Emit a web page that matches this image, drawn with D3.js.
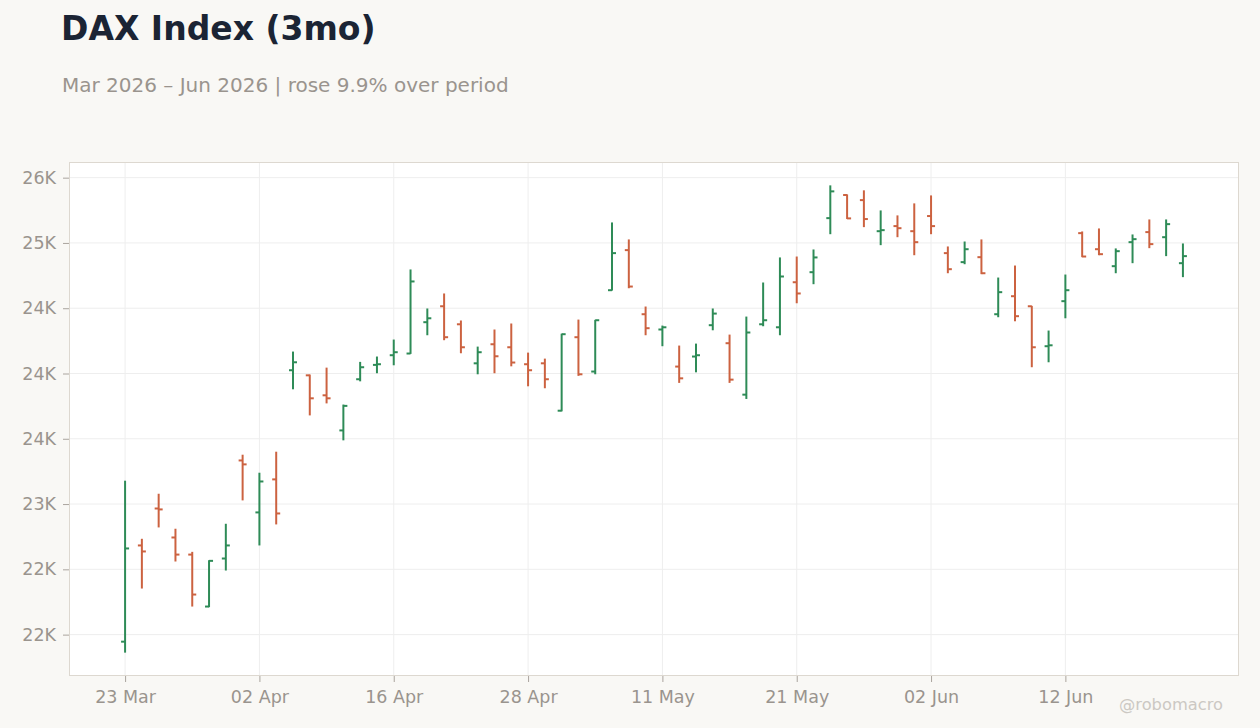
<!DOCTYPE html>
<html>
<head>
<meta charset="utf-8">
<script src="https://cdn.jsdelivr.net/npm/d3@7"></script>
<style>
  html, body { margin: 0; padding: 0; background: #f9f8f5; }
  svg { display: block; font-family: "DejaVu Sans", sans-serif; }
</style>
</head>
<body>
<svg id="chart" width="1260" height="728"></svg>
<script>
// ---- data ----
const dates = ["2026-03-23","2026-03-24","2026-03-25","2026-03-26","2026-03-27","2026-03-30","2026-03-31","2026-04-01","2026-04-02","2026-04-07","2026-04-08","2026-04-09","2026-04-10","2026-04-13","2026-04-14","2026-04-15","2026-04-16","2026-04-17","2026-04-20","2026-04-21","2026-04-22","2026-04-23","2026-04-24","2026-04-27","2026-04-28","2026-04-29","2026-04-30","2026-05-04","2026-05-05","2026-05-06","2026-05-07","2026-05-08","2026-05-11","2026-05-12","2026-05-13","2026-05-14","2026-05-15","2026-05-18","2026-05-19","2026-05-20","2026-05-21","2026-05-22","2026-05-25","2026-05-26","2026-05-27","2026-05-28","2026-05-29","2026-06-01","2026-06-02","2026-06-03","2026-06-04","2026-06-05","2026-06-08","2026-06-09","2026-06-10","2026-06-11","2026-06-12","2026-06-15","2026-06-16","2026-06-17","2026-06-18","2026-06-19","2026-06-22","2026-06-23"];
const open  = [22446,23183,23466,23244,23113,22715,23083,23834,23436,23689,24525,24486,24333,24064,24456,24566,24640,24653,24893,25015,24877,24578,24724,24701,24571,24578,24215,24778,24515,25138,25445,24954,24837,24553,24630,24870,24732,24338,24877,24854,25199,25276,25690,25867,25828,25590,25629,25590,25706,25422,25353,25391,24954,25092,25015,24709,25054,25575,25452,25322,25506,25583,25544,25345];
const high  = [23679,23234,23579,23311,23134,23070,23349,23878,23740,23901,24668,24492,24545,24262,24589,24630,24760,25297,24998,25113,24906,24706,24837,24883,24660,24614,24805,24913,24911,25657,25527,25013,24867,24714,24729,24998,24798,24936,25197,25389,25396,25450,25941,25872,25903,25749,25711,25803,25864,25473,25511,25527,25235,25327,25018,24829,25258,25588,25611,25458,25565,25680,25680,25496];
const low   = [22362,22853,23321,23060,22715,22710,22991,23528,23183,23344,24379,24179,24271,23988,24440,24502,24563,24650,24793,24755,24655,24494,24502,24555,24402,24387,24210,24482,24494,25135,25153,24793,24709,24428,24509,24831,24428,24305,24862,24793,25038,25184,25567,25683,25621,25483,25544,25406,25567,25268,25337,25261,24931,24900,24548,24586,24923,25391,25406,25268,25345,25460,25399,25238];
const close = [23160,23137,23459,23113,22807,23065,23183,23804,23673,23428,24586,24310,24310,24252,24548,24571,24663,25205,24923,24778,24701,24663,24632,24584,24525,24456,24801,24494,24908,25422,25166,24847,24854,24463,24640,24959,24453,24814,24908,25243,25113,25389,25895,25688,25683,25598,25613,25506,25629,25299,25452,25268,25123,24939,24701,24716,25138,25396,25414,25437,25529,25491,25644,25399];
const yTickValues = [22500,23000,23500,24000,24500,25000,25500,26000];
const yTickLabels = ["22K","22K","23K","24K","24K","24K","25K","26K"];
const xTickEvery = 8;
const title = "DAX Index (3mo)";
const subtitle = "Mar 2026 – Jun 2026 | rose 9.9% over period";
const credit = "@robomacro";

// ---- layout ----
const W = 1260, H = 728;
const plot = { left: 69, right: 1239, top: 162, bottom: 676 };
const UP = "#2e8b57", DOWN = "#cc6240";

const parse = d3.timeParse("%Y-%m-%d");
const fmt = d3.timeFormat("%d %b");
const data = dates.map((d, i) => ({ i, date: parse(d), o: open[i], h: high[i], l: low[i], c: close[i] }));

const svg = d3.select("#chart");

const n = data.length;
const xPad = 3.34;
const x = d3.scaleLinear().domain([-xPad, n - 1 + xPad]).range([plot.left, plot.right]);
const lo = d3.min(low), hi = d3.max(high), pad = (hi - lo) * 0.05;
const y = d3.scaleLinear().domain([lo - pad, hi + pad]).range([plot.bottom, plot.top]);

// plot background
svg.append("rect")
  .attr("x", plot.left).attr("y", plot.top)
  .attr("width", plot.right - plot.left).attr("height", plot.bottom - plot.top)
  .attr("fill", "#ffffff");

const xTicks = d3.range(0, n, xTickEvery);

// grid
const grid = svg.append("g");
grid.selectAll("line.h").data(yTickValues).join("line")
  .attr("x1", plot.left).attr("x2", plot.right)
  .attr("y1", d => y(d)).attr("y2", d => y(d))
  .attr("stroke", "#eeeeee").attr("stroke-width", 1);
grid.selectAll("line.v").data(xTicks).join("line")
  .attr("y1", plot.top).attr("y2", plot.bottom)
  .attr("x1", d => x(d)).attr("x2", d => x(d))
  .attr("stroke", "#eeeeee").attr("stroke-width", 1);

// plot border
svg.append("rect")
  .attr("x", plot.left + 0.5).attr("y", plot.top + 0.5)
  .attr("width", plot.right - plot.left - 1).attr("height", plot.bottom - plot.top - 1)
  .attr("fill", "none").attr("stroke", "#ddd8d0").attr("stroke-width", 1);

// axes
const axisColor = "#9a948e";
const yAxis = d3.axisLeft(y).tickValues(yTickValues)
  .tickFormat((d, i) => yTickLabels[i]).tickSize(6).tickPadding(7);
const gy = svg.append("g").attr("transform", `translate(${plot.left},0)`).call(yAxis);
gy.select(".domain").remove();
gy.selectAll(".tick line").attr("stroke", "#aaa49e");
gy.selectAll(".tick text").attr("fill", axisColor).attr("font-size", 17.5)
  .attr("font-family", "DejaVu Sans, sans-serif");

const xAxis = d3.axisBottom(x).tickValues(xTicks)
  .tickFormat(i => fmt(data[i].date)).tickSize(6).tickPadding(9);
const gx = svg.append("g").attr("transform", `translate(0,${plot.bottom})`).call(xAxis);
gx.select(".domain").remove();
gx.selectAll(".tick line").attr("stroke", "#aaa49e");
gx.selectAll(".tick text").attr("fill", axisColor).attr("font-size", 17.5)
  .attr("font-family", "DejaVu Sans, sans-serif");

// OHLC bars
const tickLen = 4;
const bars = svg.append("g").selectAll("g").data(data).join("g")
  .attr("stroke", d => d.c >= d.o ? UP : DOWN)
  .attr("stroke-width", 2);
bars.append("line")
  .attr("x1", d => x(d.i)).attr("x2", d => x(d.i))
  .attr("y1", d => y(d.h)).attr("y2", d => y(d.l));
bars.append("line")
  .attr("x1", d => x(d.i) - tickLen).attr("x2", d => x(d.i))
  .attr("y1", d => y(d.o)).attr("y2", d => y(d.o));
bars.append("line")
  .attr("x1", d => x(d.i)).attr("x2", d => x(d.i) + tickLen)
  .attr("y1", d => y(d.c)).attr("y2", d => y(d.c));

// titles
svg.append("text").attr("x", 61).attr("y", 39.5)
  .attr("font-size", 33).attr("font-weight", "bold").attr("fill", "#1b2434")
  .text(title);
svg.append("text").attr("x", 62).attr("y", 91.5)
  .attr("font-size", 20).attr("fill", "#9a948e")
  .text(subtitle);
svg.append("text").attr("x", 1223).attr("y", 710).attr("text-anchor", "end")
  .attr("font-size", 16.3).attr("fill", "#ccc8c3")
  .text(credit);
</script>
</body>
</html>
